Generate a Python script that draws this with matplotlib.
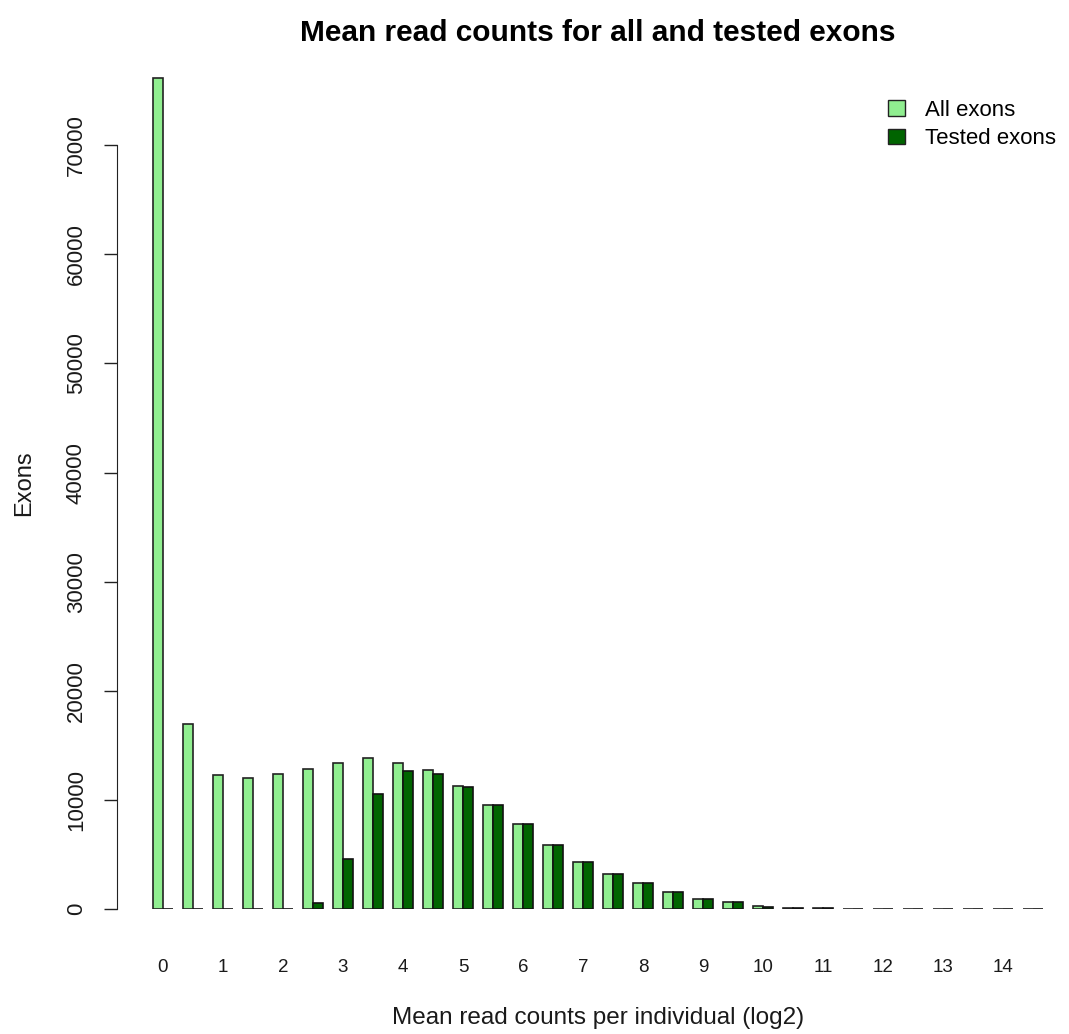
import numpy as np
import matplotlib
matplotlib.use("Agg")
from matplotlib import pyplot as plt
from matplotlib.patches import Patch

plt.rcParams['font.family'] = ['Liberation Sans', 'DejaVu Sans']

# bins of mean read counts (log2), step 0.5
bins = np.arange(0, 15, 0.5)
tick_labels = [str(i) for i in range(15)]

all_exons = [76200, 17000, 12300, 12000, 12400, 12850, 13400, 13800, 13400, 12700,
             11250, 9550, 7750, 5900, 4350, 3200, 2350, 1530, 920, 640,
             250, 100, 80, 20, 15, 10, 10, 5, 5, 5]
tested_exons = [0, 0, 0, 0, 0, 520, 4600, 10550, 12650, 12400,
                11150, 9550, 7750, 5900, 4350, 3200, 2350, 1530, 920, 640,
                200, 100, 80, 20, 15, 10, 10, 5, 5, 5]

light = '#90EE90'
dark = '#006400'
ink = '#1a1a1a'

fig = plt.figure(figsize=(10.69, 10.34), dpi=100)
ax = fig.add_axes([143 / 1069, 125 / 1034, 910 / 1069, 851 / 1034])

# R barplot(beside=TRUE) layout: one unit gap before each group of two bars
n = len(bins)
left_all = np.arange(n) * 3 + 1
ax.bar(left_all, all_exons, width=1, align='edge', color=light,
       edgecolor='#222222', linewidth=1.2)
ax.bar(left_all + 1, tested_exons, width=1, align='edge', color=dark,
       edgecolor='#111111', linewidth=1.2)

ax.set_xlim(0, 91)
ax.set_ylim(0, 78000)

for s in ['top', 'right', 'bottom']:
    ax.spines[s].set_visible(False)
ax.spines['left'].set_position(('outward', 19))
ax.spines['left'].set_bounds(0, 70000)
ax.spines['left'].set_color('#222222')

ax.set_yticks(np.arange(0, 70001, 10000))
ax.set_yticklabels([str(v) for v in range(0, 70001, 10000)], rotation=90,
                   va='center', fontsize=16, color=ink)
ax.tick_params(axis='y', length=9.5, width=1, color='#222222', pad=12)

ax.set_xticks(left_all[::2] + 1)
ax.set_xticklabels(tick_labels, fontsize=13.5, color=ink)
ax.tick_params(axis='x', length=0, pad=36)

ax.set_xlabel('Mean read counts per individual (log2)', fontsize=17.5,
              color=ink, labelpad=22)
ax.set_ylabel('Exons', fontsize=17, color=ink, labelpad=22)
ax.set_title('Mean read counts for all and tested exons', fontsize=21.5,
             fontweight='bold', pad=12)

handles = [Patch(facecolor=light, edgecolor='#222222', label='All exons'),
           Patch(facecolor=dark, edgecolor='#222222', label='Tested exons')]
fig.legend(handles=handles, loc='upper left',
           bbox_to_anchor=(888 / 1069, 1 - 100 / 1034),
           frameon=False, fontsize=16, handlelength=0.75, handleheight=0.7,
           handletextpad=0.9, labelspacing=0.32, borderpad=0,
           borderaxespad=0)

fig.savefig('out.png', dpi=100)
